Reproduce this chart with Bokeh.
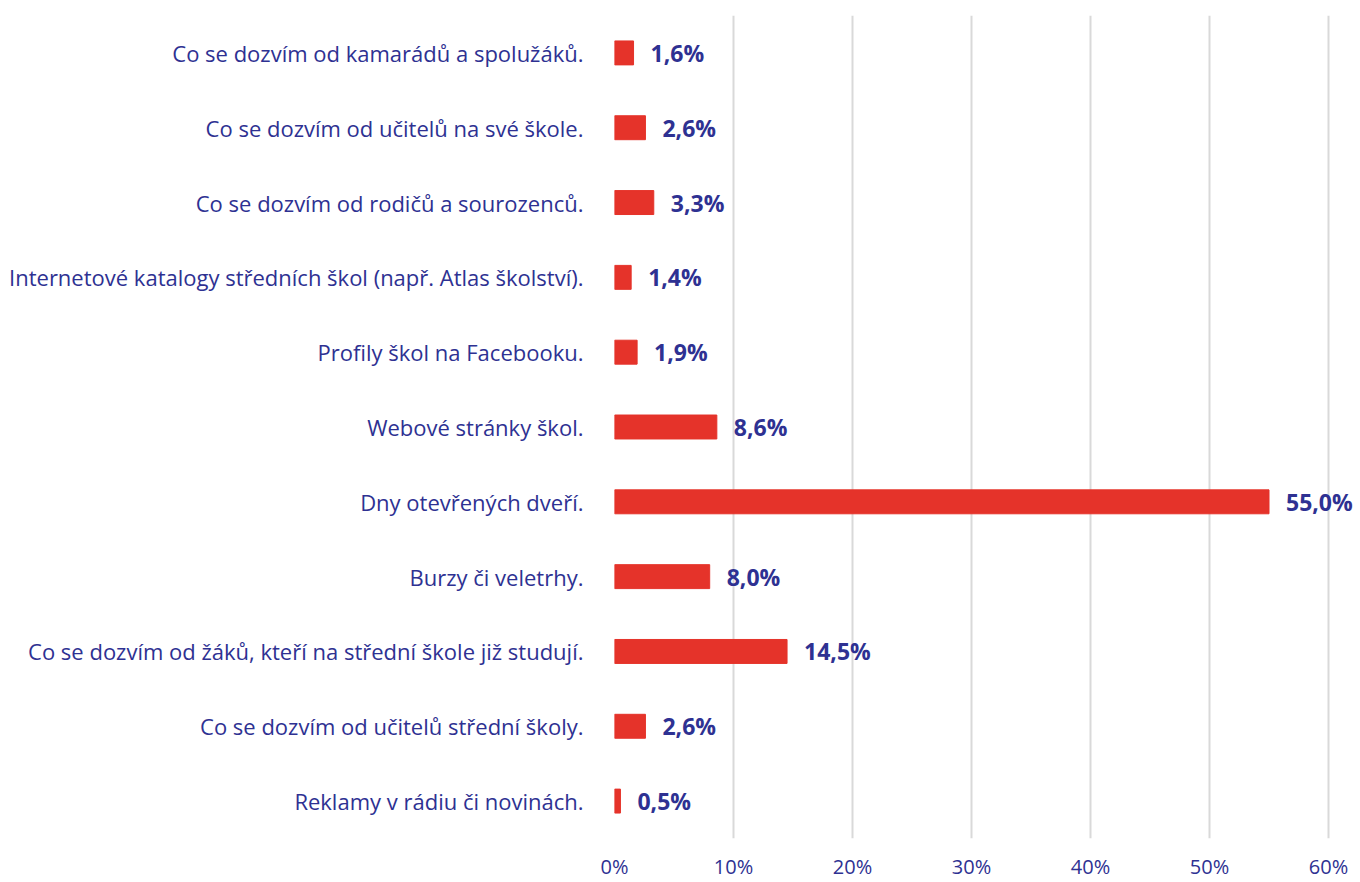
from bokeh.plotting import figure
from bokeh.models import Range1d, FactorRange, ColumnDataSource, FixedTicker
from bokeh.core.properties import value
from bokeh.embed import file_html
from bokeh.resources import INLINE

categories = [
    "Co se dozvím od kamarádů a spolužáků.",
    "Co se dozvím od učitelů na své škole.",
    "Co se dozvím od rodičů a sourozenců.",
    "Internetové katalogy středních škol (např. Atlas školství).",
    "Profily škol na Facebooku.",
    "Webové stránky škol.",
    "Dny otevřených dveří.",
    "Burzy či veletrhy.",
    "Co se dozvím od žáků, kteří na střední škole již studují.",
    "Co se dozvím od učitelů střední školy.",
    "Reklamy v rádiu či novinách.",
]
values = [1.6, 2.6, 3.3, 1.4, 1.9, 8.6, 55.0, 8.0, 14.5, 2.6, 0.5]
labels = ["1,6%", "2,6%", "3,3%", "1,4%", "1,9%", "8,6%", "55,0%", "8,0%", "14,5%", "2,6%", "0,5%"]
ticks = [0, 10, 20, 30, 40, 50, 60]
tick_labels = {0: "0%", 10: "10%", 20: "20%", 30: "30%", 40: "40%", 50: "50%", 60: "60%"}

TEXT = "#2E3192"
BAR = "#E5332A"
FONT = "Open Sans"

src = ColumnDataSource(dict(cat=categories, val=values, lab=labels))

p = figure(
    width=1360, height=882,
    y_range=FactorRange(factors=list(reversed(categories))),
    x_range=Range1d(0, 60 * 746 / 714),
    output_backend="svg", toolbar_location=None,
    min_border_left=614, min_border_right=0, min_border_top=15, min_border_bottom=44,
)
p.outline_line_color = None
p.background_fill_color = "white"

p.hbar(y="cat", right="val", left=0, height=0.32, color=BAR, source=src)

p.text(x="val", y="cat", text="lab", source=src, x_offset=17,
       text_font=value(FONT), text_font_size="23px", text_font_style="bold",
       text_color=TEXT, text_baseline="middle", text_align="left")

p.xaxis.ticker = FixedTicker(ticks=ticks)
p.xaxis.major_label_overrides = tick_labels
p.xaxis.axis_line_color = None
p.xaxis.major_tick_line_color = None
p.xaxis.minor_tick_line_color = None
p.xaxis.major_label_text_font = FONT
p.xaxis.major_label_text_font_size = "20px"
p.xaxis.major_label_text_color = TEXT
p.xaxis.major_label_standoff = 8

p.yaxis.axis_line_color = None
p.yaxis.major_tick_line_color = None
p.yaxis.minor_tick_line_color = None
p.yaxis.major_label_text_font = FONT
p.yaxis.major_label_text_font_size = "22px"
p.yaxis.major_label_text_color = TEXT
p.yaxis.major_label_standoff = 25

p.ygrid.grid_line_color = None
p.xgrid.grid_line_color = "#D9D9D9"
p.xgrid.grid_line_width = 2

open("out.html", "w").write(file_html(p, INLINE))
